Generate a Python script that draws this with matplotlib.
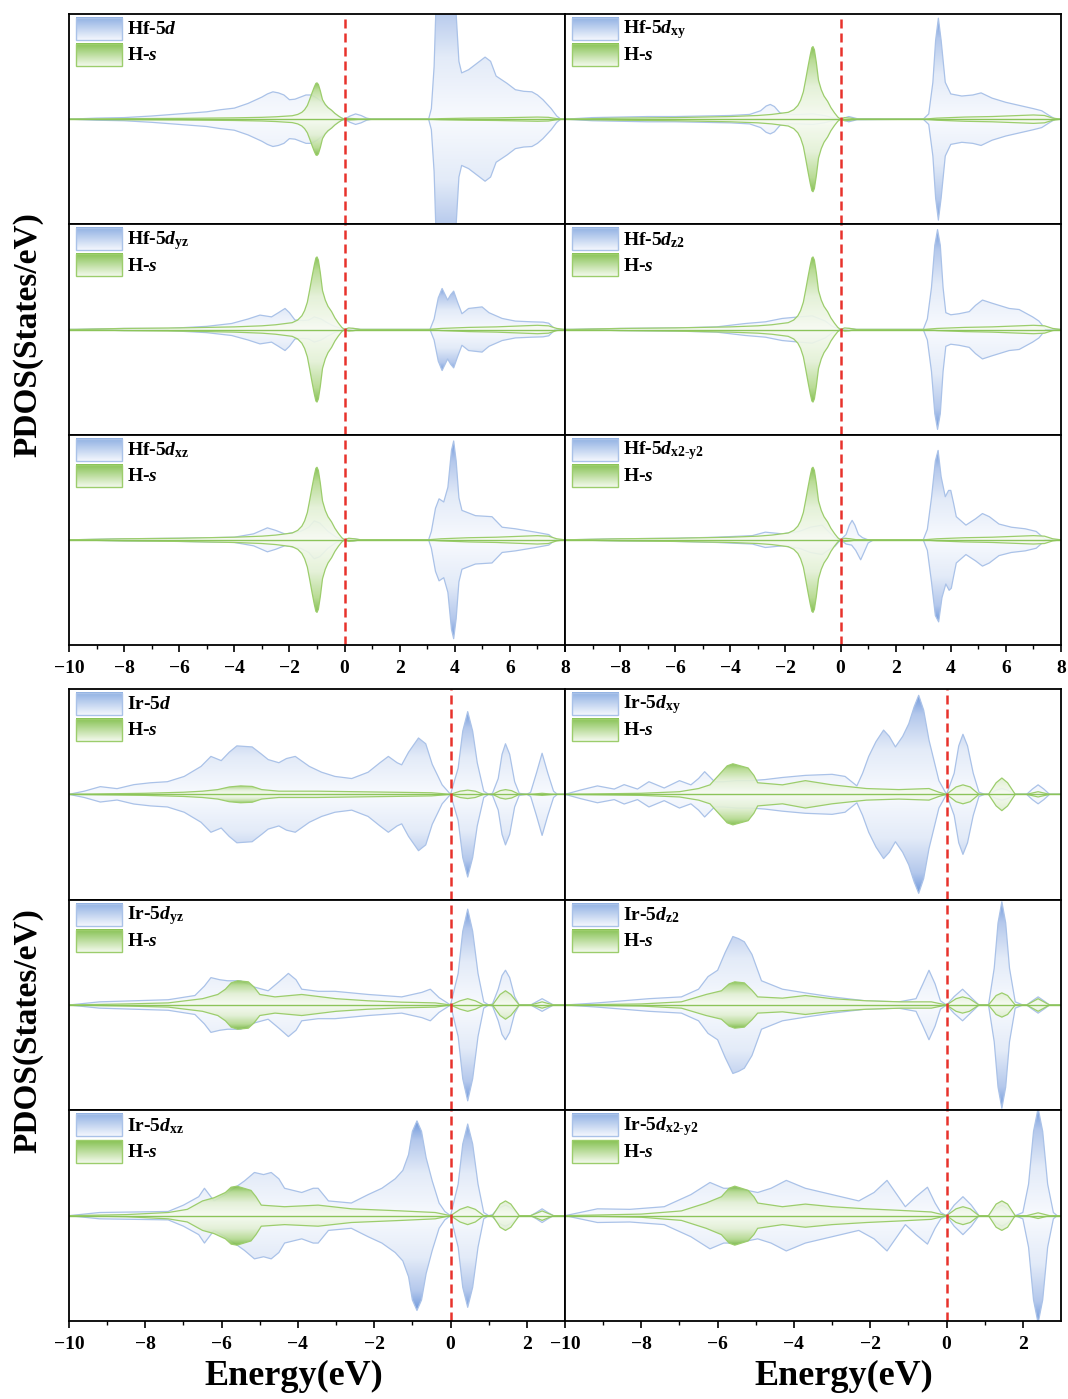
import numpy as np
import matplotlib
matplotlib.use('Agg')
import matplotlib.pyplot as plt
from matplotlib.colors import LinearSegmentedColormap
from matplotlib.patches import Polygon, Rectangle

plt.rcParams['font.family'] = 'Liberation Serif'
plt.rcParams['font.weight'] = 'bold'
plt.rcParams['mathtext.fontset'] = 'custom'
plt.rcParams['mathtext.rm'] = 'Liberation Serif:bold'
plt.rcParams['mathtext.it'] = 'Liberation Serif:italic:bold'
plt.rcParams['mathtext.bf'] = 'Liberation Serif:bold'

# ---- PDOS data, (energy eV, states/eV) pairs, spin up; spin down mirrored ----
# Hf block (energy -10..8)
hf_d = [(-10, 0), (-9, 0.2), (-8, 0.3), (-7, 0.6), (-6, 1.0), (-5, 1.4), (-4.5, 1.8), (-4, 2.1),
        (-3.5, 3.0), (-3, 4.2), (-2.8, 4.8), (-2.6, 5.2), (-2.4, 5.0), (-2.2, 4.6), (-2.0, 3.7),
        (-1.8, 3.8), (-1.6, 4.2), (-1.4, 4.6), (-1.2, 4.6), (-1.0, 4.0), (-0.8, 3.2), (-0.6, 2.2),
        (-0.4, 1.2), (-0.2, 0.4), (0, 0), (0.2, 0.6), (0.4, 1.0), (0.6, 0.7), (0.8, 0.2), (1.0, 0),
        (3.05, 0), (3.15, 2.0), (3.25, 10), (3.32, 22), (3.4, 26), (3.95, 26), (4.05, 20),
        (4.15, 11), (4.25, 8.8), (4.5, 9.4), (4.8, 10.6), (5.1, 11.8), (5.3, 11.0), (5.5, 8.2),
        (5.9, 6.8), (6.2, 5.6), (6.5, 5.3), (6.8, 5.2), (7.0, 4.6), (7.2, 3.7), (7.5, 2.0),
        (7.7, 0.6), (7.85, 0), (8, 0)]
hf_dxy = [(-10, 0), (-9, 0.15), (-8, 0.2), (-7, 0.25), (-6, 0.25), (-5, 0.3), (-4, 0.35),
          (-3.3, 0.45), (-2.9, 0.8), (-2.7, 1.25), (-2.55, 1.4), (-2.4, 1.2), (-2.2, 0.6),
          (-2.0, 0.45), (-1.5, 0.45), (-1.0, 0.5), (-0.6, 0.35), (-0.3, 0.15), (0, 0), (0.3, 0.25),
          (0.6, 0.05), (3.0, 0), (3.2, 0.5), (3.35, 3.5), (3.45, 7.5), (3.55, 9.6), (3.65, 7.5),
          (3.8, 3.5), (4.0, 2.4), (4.4, 2.2), (4.8, 2.3), (5.1, 2.5), (5.5, 2.0), (6.0, 1.6),
          (6.5, 1.3), (7.0, 1.0), (7.3, 0.8), (7.6, 0.3), (7.8, 0), (8, 0)]
hf_dyz = [(-10, 0), (-8, 0.1), (-6.4, 0.1), (-5, 0.3), (-4.1, 0.57), (-3.5, 1.0), (-3.07, 1.37),
          (-2.65, 1.2), (-2.4, 1.6), (-2.16, 2.0), (-2.0, 1.6), (-1.8, 0.9), (-1.5, 0.85),
          (-1.3, 0.9), (-1.1, 1.2), (-0.85, 1.0), (-0.6, 0.6), (-0.36, 0.3), (0, 0), (0.3, 0.1),
          (0.6, 0), (3.1, 0), (3.25, 1.0), (3.4, 3.0), (3.54, 3.9), (3.65, 3.3), (3.74, 2.8),
          (3.85, 3.3), (3.96, 3.65), (4.1, 2.6), (4.26, 1.5), (4.5, 2.0), (4.99, 2.15),
          (5.24, 1.6), (5.72, 1.05), (6.2, 0.8), (6.8, 0.73), (7.2, 0.7), (7.41, 0.6),
          (7.65, 0), (8, 0)]
hf_dxz = [(-10, 0), (-8, 0.1), (-6, 0.15), (-5, 0.2), (-4, 0.25), (-3.3, 0.57), (-2.8, 1.14),
          (-2.5, 0.9), (-2.16, 0.55), (-1.6, 0.8), (-1.3, 1.2), (-1.1, 1.8), (-0.9, 1.6),
          (-0.6, 0.8), (-0.3, 0.25), (0, 0), (0.3, 0.1), (0.6, 0), (3.05, 0), (3.15, 0.8),
          (3.3, 3.0), (3.43, 3.9), (3.6, 3.6), (3.75, 5.0), (3.88, 8.5), (3.96, 9.4), (4.05, 7.5),
          (4.15, 4.0), (4.26, 2.8), (4.75, 2.3), (5.35, 2.2), (5.72, 1.2), (6.2, 1.05),
          (6.93, 0.73), (7.41, 0.5), (7.65, 0), (8, 0)]
hf_dz2 = [(-10, 0), (-8, 0.1), (-6, 0.15), (-4.5, 0.25), (-3.45, 0.57), (-2.73, 0.73),
          (-2.12, 1.05), (-1.5, 1.2), (-1.03, 1.3), (-0.55, 0.8), (-0.3, 0.3), (0, 0), (0.3, 0.1),
          (0.6, 0), (3.0, 0), (3.15, 1.0), (3.3, 4.0), (3.42, 8.0), (3.52, 9.5), (3.62, 8.0),
          (3.72, 4.0), (3.82, 1.6), (4.0, 1.4), (4.3, 1.5), (4.67, 1.7), (4.9, 2.3), (5.15, 2.8),
          (5.5, 2.5), (6.12, 2.0), (6.48, 1.9), (6.97, 1.2), (7.2, 0.8), (7.45, 0), (8, 0)]
hf_dx2y2 = [(-10, 0), (-8, 0.1), (-6, 0.15), (-4.5, 0.25), (-3.2, 0.4), (-2.73, 0.73),
            (-2.12, 0.57), (-1.5, 0.8), (-1.1, 1.2), (-0.67, 1.4), (-0.4, 0.7), (-0.2, 0.2),
            (0, 0), (0.2, 0.5), (0.32, 1.4), (0.42, 1.85), (0.52, 1.4), (0.65, 0.5), (0.8, 0.2),
            (1.0, 0), (3.0, 0), (3.15, 1.0), (3.3, 4.0), (3.44, 7.5), (3.54, 8.5), (3.65, 6.0),
            (3.8, 4.1), (3.92, 4.7), (4.0, 4.7), (4.1, 3.5), (4.2, 2.2), (4.55, 1.4), (4.9, 2.0),
            (5.15, 2.5), (5.4, 2.2), (5.75, 1.5), (6.2, 1.2), (6.7, 1.05), (7.1, 0.8),
            (7.45, 0), (8, 0)]
hf_dx2y2_dn = [(-10, 0), (-8, 0.1), (-6, 0.15), (-4.5, 0.25), (-3.2, 0.4), (-2.73, 0.73),
               (-2.12, 0.57), (-1.5, 0.8), (-1.1, 1.2), (-0.67, 1.4), (-0.4, 0.9), (-0.2, 0.6),
               (0, 0), (0.2, 0.4), (0.4, 0.5), (0.55, 1.0), (0.73, 1.9), (0.85, 1.2), (1.0, 0.3),
               (1.2, 0), (3.0, 0), (3.15, 1.0), (3.3, 4.0), (3.44, 7.2), (3.56, 7.8), (3.68, 5.5),
               (3.82, 4.2), (3.94, 4.8), (4.02, 4.6), (4.1, 3.5), (4.2, 2.2), (4.55, 1.4),
               (4.9, 2.0), (5.15, 2.5), (5.4, 2.2), (5.75, 1.5), (6.2, 1.2), (6.7, 1.05),
               (7.1, 0.8), (7.45, 0), (8, 0)]
hf_hs = [(-10, 0), (-8, 0.1), (-6, 0.15), (-5, 0.2), (-4, 0.25), (-3.5, 0.3), (-3, 0.35),
         (-2.5, 0.45), (-2.2, 0.55), (-1.9, 0.65), (-1.7, 0.9), (-1.55, 1.3), (-1.45, 1.8),
         (-1.35, 2.6), (-1.27, 3.7), (-1.18, 5.0), (-1.1, 6.1), (-1.04, 6.8), (-1.0, 6.9),
         (-0.95, 6.6), (-0.88, 5.4), (-0.8, 3.7), (-0.7, 2.8), (-0.6, 2.2), (-0.47, 1.7),
         (-0.35, 1.1), (-0.22, 0.6), (-0.1, 0.2), (0, 0), (0.15, 0.15), (0.35, 0.1), (0.6, 0),
         (3.0, 0), (3.5, 0.1), (4.5, 0.2), (5.5, 0.25), (6.0, 0.3), (6.5, 0.35), (7.0, 0.4),
         (7.4, 0.35), (7.7, 0.1), (8, 0)]

# Ir block (energy -10..3)
ir_d = [(-10, 0), (-9.6, 0.3), (-9.18, 0.73), (-8.74, 0.54), (-8.3, 0.92), (-7.86, 1.1),
        (-7.42, 1.2), (-6.98, 1.7), (-6.54, 2.65), (-6.28, 3.6), (-6.01, 3.2), (-5.8, 4.0),
        (-5.6, 4.6), (-5.2, 4.5), (-4.95, 3.8), (-4.78, 3.3), (-4.5, 3.0), (-4.3, 3.4),
        (-4.07, 3.6), (-3.7, 2.65), (-3.38, 2.1), (-3.03, 1.7), (-2.59, 1.5), (-2.16, 2.1),
        (-1.85, 3.0), (-1.63, 3.6), (-1.4, 3.0), (-1.28, 2.8), (-1.1, 4.0), (-0.84, 5.35),
        (-0.65, 4.8), (-0.48, 2.85), (-0.22, 0.9), (0, 0), (0.2, 2.5), (0.32, 6.0), (0.45, 7.85),
        (0.58, 6.0), (0.7, 3.0), (0.87, 0.3), (1.0, 0), (1.1, 0.1), (1.25, 1.5), (1.35, 3.8),
        (1.44, 4.8), (1.55, 3.8), (1.68, 1.2), (1.8, 0.1), (2.0, 0), (2.1, 0.2), (2.25, 2.0),
        (2.4, 3.9), (2.55, 2.0), (2.7, 0.3), (2.8, 0), (3, 0)]
ir_d_hs = [(-10, 0), (-8, 0.1), (-7, 0.2), (-6.5, 0.3), (-6.1, 0.45), (-5.8, 0.7), (-5.5, 0.8),
           (-5.2, 0.75), (-4.95, 0.45), (-4.5, 0.3), (-3.5, 0.3), (-2.5, 0.25), (-1.5, 0.2),
           (-0.5, 0.15), (0, 0), (0.25, 0.3), (0.45, 0.4), (0.65, 0.3), (0.87, 0), (1.1, 0),
           (1.3, 0.35), (1.44, 0.45), (1.6, 0.35), (1.8, 0), (2.1, 0), (2.4, 0.1), (2.7, 0), (3, 0)]
ir_dyz = [(-10, 0), (-9.2, 0.3), (-8.3, 0.4), (-7.4, 0.5), (-6.7, 0.9), (-6.45, 1.8),
          (-6.28, 2.6), (-6.05, 2.4), (-5.84, 2.3), (-5.5, 2.3), (-5.14, 1.7), (-4.78, 1.35),
          (-4.5, 2.2), (-4.25, 3.0), (-4.05, 2.4), (-3.9, 1.5), (-3.47, 1.3), (-3.03, 1.3),
          (-2.16, 1.0), (-1.28, 0.77), (-0.75, 1.2), (-0.53, 1.5), (-0.3, 0.7), (0, 0), (0.2, 3.0),
          (0.32, 7.0), (0.45, 9.1), (0.58, 7.0), (0.72, 3.0), (0.87, 0.3), (1.0, 0), (1.1, 0.1),
          (1.25, 1.5), (1.35, 2.8), (1.44, 3.3), (1.55, 2.6), (1.68, 0.8), (1.8, 0), (2.1, 0),
          (2.25, 0.3), (2.4, 0.6), (2.55, 0.3), (2.7, 0), (3, 0)]
ir_dyz_hs = [(-10, 0), (-8.5, 0.1), (-7.4, 0.2), (-6.5, 0.6), (-6.1, 1.0), (-5.9, 1.5),
             (-5.75, 2.1), (-5.58, 2.3), (-5.3, 2.2), (-5.15, 1.7), (-5.0, 1.0), (-4.6, 0.77),
             (-3.9, 1.0), (-3.0, 0.6), (-2.16, 0.4), (-1.28, 0.27), (-0.4, 0.2), (0, 0),
             (0.25, 0.4), (0.45, 0.6), (0.65, 0.4), (0.87, 0), (1.1, 0), (1.3, 1.0), (1.44, 1.35),
             (1.58, 1.0), (1.8, 0), (2.1, 0), (2.4, 0.3), (2.7, 0), (3, 0)]
ir_dxz = [(-10, 0), (-9.2, 0.3), (-7.4, 0.4), (-7.0, 1.0), (-6.6, 1.8), (-6.45, 2.6),
          (-6.2, 1.4), (-5.9, 2.0), (-5.67, 2.6), (-5.4, 3.3), (-5.14, 4.1), (-4.9, 3.9),
          (-4.7, 4.1), (-4.5, 3.5), (-4.35, 2.6), (-3.9, 2.2), (-3.6, 2.6), (-3.47, 2.6),
          (-3.2, 1.4), (-2.6, 1.2), (-2.16, 2.0), (-1.8, 2.6), (-1.45, 3.5), (-1.25, 4.3),
          (-1.1, 5.8), (-1.0, 8.0), (-0.88, 9.0), (-0.76, 8.0), (-0.64, 5.5), (-0.48, 3.3),
          (-0.3, 1.2), (-0.15, 0.4), (0, 0), (0.2, 3.0), (0.32, 6.8), (0.45, 8.7), (0.58, 6.8),
          (0.72, 3.0), (0.87, 0.3), (1.0, 0), (1.1, 0.1), (1.25, 0.7), (1.44, 1.0), (1.6, 0.7),
          (1.8, 0), (2.1, 0), (2.25, 0.3), (2.4, 0.65), (2.55, 0.3), (2.7, 0), (3, 0)]
ir_dxz_hs = [(-10, 0), (-8.5, 0.1), (-7.4, 0.3), (-6.9, 0.6), (-6.5, 1.4), (-6.2, 1.7),
             (-5.9, 2.2), (-5.75, 2.7), (-5.6, 2.8), (-5.23, 2.4), (-5.1, 1.8), (-4.96, 1.0),
             (-4.35, 0.85), (-3.47, 1.0), (-2.6, 0.65), (-1.28, 0.45), (-0.4, 0.3), (0, 0),
             (0.25, 0.6), (0.45, 0.85), (0.65, 0.6), (0.87, 0), (1.1, 0), (1.3, 1.1), (1.44, 1.4),
             (1.58, 1.1), (1.8, 0), (2.1, 0), (2.4, 0.45), (2.7, 0), (3, 0)]
ir_dxy = [(-10, 0), (-9.6, 0.4), (-9.15, 0.8), (-8.71, 0.5), (-8.45, 0.92), (-8.1, 0.5),
          (-7.8, 1.2), (-7.4, 0.6), (-7.0, 1.3), (-6.7, 0.9), (-6.5, 1.5), (-6.34, 2.15),
          (-6.08, 1.2), (-5.84, 1.2), (-5.5, 1.3), (-5.14, 1.3), (-4.76, 1.4), (-4.3, 1.6),
          (-3.7, 1.8), (-3.0, 1.9), (-2.66, 1.7), (-2.35, 0.8), (-2.2, 2.0), (-2.04, 3.6),
          (-1.85, 5.0), (-1.65, 6.1), (-1.5, 5.5), (-1.34, 4.5), (-1.15, 5.5), (-0.99, 6.7),
          (-0.85, 8.3), (-0.73, 9.4), (-0.6, 8.0), (-0.46, 5.15), (-0.2, 1.3), (0, 0), (0.2, 2.0),
          (0.32, 4.6), (0.43, 5.7), (0.55, 4.6), (0.7, 2.0), (0.85, 0.2), (1.0, 0), (1.1, 0),
          (1.3, 0.4), (1.45, 0.55), (1.6, 0.4), (1.8, 0), (2.1, 0), (2.25, 0.5), (2.4, 0.9),
          (2.55, 0.5), (2.7, 0), (3, 0)]
ir_dxy_hs = [(-10, 0), (-8, 0.1), (-7, 0.25), (-6.5, 0.55), (-6.2, 0.9), (-5.9, 2.1),
             (-5.75, 2.7), (-5.6, 2.9), (-5.2, 2.5), (-5.05, 1.8), (-4.95, 1.1), (-4.3, 0.9),
             (-3.7, 1.3), (-3.0, 0.9), (-2.1, 0.55), (-1.25, 0.45), (-0.46, 0.55), (-0.2, 0.2),
             (0, 0), (0.25, 0.7), (0.43, 0.9), (0.62, 0.7), (0.85, 0), (1.1, 0), (1.3, 1.1),
             (1.45, 1.55), (1.6, 1.1), (1.8, 0), (2.1, 0), (2.4, 0.25), (2.7, 0), (3, 0)]
ir_dz2 = [(-10, 0), (-9.15, 0.2), (-7.8, 0.6), (-6.95, 0.77), (-6.5, 1.5), (-6.25, 2.7),
          (-6.0, 3.3), (-5.8, 5.0), (-5.6, 6.5), (-5.45, 6.3), (-5.3, 6.0), (-5.1, 4.8),
          (-4.85, 2.3), (-4.3, 1.5), (-3.7, 1.15), (-3.0, 0.77), (-2.13, 0.4), (-1.25, 0.3),
          (-0.8, 0.6), (-0.62, 2.0), (-0.46, 3.3), (-0.3, 2.0), (-0.16, 0.4), (0, 0), (0.2, 0.8),
          (0.42, 1.5), (0.62, 0.8), (0.85, 0), (1.1, 0), (1.25, 3.5), (1.35, 7.8), (1.45, 9.8),
          (1.55, 7.8), (1.65, 3.5), (1.8, 0.3), (2.0, 0), (2.1, 0), (2.25, 0.4), (2.4, 0.77),
          (2.55, 0.4), (2.7, 0), (3, 0)]
ir_dz2_hs = [(-10, 0), (-8, 0.1), (-6.95, 0.3), (-6.3, 1.0), (-5.9, 1.35), (-5.7, 2.0),
             (-5.55, 2.2), (-5.3, 2.1), (-5.1, 1.4), (-4.95, 0.77), (-4.3, 0.65), (-3.7, 0.9),
             (-3.0, 0.6), (-2.1, 0.4), (-1.2, 0.3), (-0.4, 0.3), (0, 0), (0.25, 0.6), (0.42, 0.77),
             (0.6, 0.6), (0.85, 0), (1.1, 0), (1.3, 0.9), (1.45, 1.15), (1.6, 0.9), (1.8, 0),
             (2.1, 0), (2.4, 0.6), (2.7, 0), (3, 0)]
ir_dx2y2 = [(-10, 0), (-9.15, 0.65), (-8.3, 0.6), (-7.4, 0.85), (-6.7, 2.0), (-6.2, 3.15),
            (-5.84, 2.6), (-5.5, 2.6), (-4.95, 2.2), (-4.6, 2.6), (-4.2, 3.35), (-3.7, 2.6),
            (-3.0, 2.0), (-2.3, 1.4), (-1.9, 2.2), (-1.56, 3.35), (-1.3, 2.0), (-1.08, 0.85),
            (-0.8, 1.8), (-0.5, 2.7), (-0.3, 1.2), (-0.15, 0.3), (0, 0), (0.2, 1.0), (0.43, 1.8),
            (0.65, 1.0), (0.85, 0), (1.1, 0), (1.3, 0.7), (1.45, 1.0), (1.6, 0.7), (1.8, 0),
            (2.0, 0.3), (2.15, 3.0), (2.28, 8.0), (2.4, 10.2), (2.52, 8.0), (2.65, 3.0),
            (2.8, 0.3), (2.9, 0), (3, 0)]
ir_dx2y2_hs = [(-10, 0), (-8, 0.15), (-6.95, 0.45), (-6.3, 1.2), (-5.9, 1.8), (-5.7, 2.6),
               (-5.55, 2.8), (-5.2, 2.4), (-5.05, 1.8), (-4.95, 1.2), (-4.3, 0.85), (-3.7, 1.1),
               (-3.0, 0.85), (-2.1, 0.65), (-1.2, 0.5), (-0.4, 0.35), (0, 0), (0.25, 0.65),
               (0.43, 0.85), (0.62, 0.65), (0.85, 0), (1.1, 0), (1.3, 1.1), (1.45, 1.4),
               (1.6, 1.1), (1.8, 0), (2.1, 0), (2.4, 0.27), (2.7, 0), (3, 0)]

# panels: (blue up, blue down, green, label, y half-range)
hf_left = [(hf_d, hf_d, hf_hs, r'Hf-5$d$', 20),
           (hf_dyz, hf_dyz, hf_hs, r'Hf-5$d_{\rm yz}$', 10),
           (hf_dxz, hf_dxz, hf_hs, r'Hf-5$d_{\rm xz}$', 10)]
hf_right = [(hf_dxy, hf_dxy, hf_hs, r'Hf-5$d_{\rm xy}$', 10),
            (hf_dz2, hf_dz2, hf_hs, r'Hf-5$d_{\rm z2}$', 10),
            (hf_dx2y2, hf_dx2y2_dn, hf_hs, r'Hf-5$d_{\rm x2\text{-}y2}$', 10)]
ir_left = [(ir_d, ir_d, ir_d_hs, r'Ir-5$d$', 10),
           (ir_dyz, ir_dyz, ir_dyz_hs, r'Ir-5$d_{\rm yz}$', 10),
           (ir_dxz, ir_dxz, ir_dxz_hs, r'Ir-5$d_{\rm xz}$', 10)]
ir_right = [(ir_dxy, ir_dxy, ir_dxy_hs, r'Ir-5$d_{\rm xy}$', 10),
            (ir_dz2, ir_dz2, ir_dz2_hs, r'Ir-5$d_{\rm z2}$', 10),
            (ir_dx2y2, ir_dx2y2, ir_dx2y2_hs, r'Ir-5$d_{\rm x2\text{-}y2}$', 10)]

BLUE = LinearSegmentedColormap.from_list(
    'b', [(0, '#f8fafe'), (0.45, '#e3ebf8'), (0.8, '#b4c8ec'), (1, '#6f98db')])
GREEN = LinearSegmentedColormap.from_list(
    'g', [(0, '#f7fbf2'), (0.45, '#e2f0d4'), (0.8, '#b3d98c'), (1, '#78b941')])
BLUE_LEG = LinearSegmentedColormap.from_list('bl', ['#f4f7fd', '#8fb0e3'])
GREEN_LEG = LinearSegmentedColormap.from_list('gl', ['#f3f9ec', '#86c252'])
BLUE_EDGE = '#aac2e8'
GREEN_EDGE = '#9ccd6c'
RED = '#e8322c'

W, H = 1068, 1399
fig = plt.figure(figsize=(W / 100, H / 100), dpi=100)


def grad_fill(ax, pts, cmap, sign, edge, alpha=1.0, z=1):
    e = np.array([p[0] for p in pts], dtype=float)
    v = np.array([p[1] for p in pts], dtype=float) * sign
    vmax = np.abs(v).max()
    verts = np.column_stack([np.r_[e, e[::-1]], np.r_[v, np.zeros_like(v)]])
    poly = Polygon(verts, closed=True, facecolor='none', edgecolor='none', zorder=z)
    ax.add_patch(poly)
    g = np.linspace(0, 1, 256).reshape(-1, 1)
    if sign > 0:
        ext = [e[0], e[-1], 0, vmax]
    else:
        ext = [e[0], e[-1], -vmax, 0]
        g = g[::-1]
    im = ax.imshow(g, extent=ext, origin='lower', aspect='auto', cmap=cmap,
                   vmin=0, vmax=1, alpha=alpha, zorder=z, interpolation='bilinear')
    im.set_clip_path(poly)
    ax.plot(e, v, color=edge, lw=0.9, zorder=z + 0.1)


def legend_box(ax, y0, cmap, edge):
    x0, w, h = 0.014, 0.093, 0.105
    g = np.linspace(0, 1, 64).reshape(-1, 1)
    ax.imshow(g, extent=[x0, x0 + w, y0, y0 + h], origin='lower', aspect='auto',
              cmap=cmap, transform=ax.transAxes, zorder=6, interpolation='bilinear')
    ax.add_patch(Rectangle((x0, y0), w, h, transform=ax.transAxes, facecolor='none',
                           edgecolor=edge, lw=1.0, zorder=7))


def panel(ax, spec, xlim):
    up, dn, hs, label, ylim = spec
    ax.set_xlim(*xlim)
    ax.set_ylim(-ylim, ylim)
    ax.set_autoscale_on(False)
    grad_fill(ax, up, BLUE, 1, BLUE_EDGE, z=1)
    grad_fill(ax, dn, BLUE, -1, BLUE_EDGE, z=1)
    grad_fill(ax, hs, GREEN, 1, GREEN_EDGE, alpha=0.9, z=2)
    grad_fill(ax, hs, GREEN, -1, GREEN_EDGE, alpha=0.9, z=2)
    ax.axhline(0, color='#8cc45a', lw=1.0, zorder=3)
    ax.axvline(0, color=RED, lw=1.8, dashes=(3.6, 2.0), zorder=4)
    legend_box(ax, 0.876, BLUE_LEG, BLUE_EDGE)
    legend_box(ax, 0.752, GREEN_LEG, GREEN_EDGE)
    ax.text(0.117, 0.925, label, transform=ax.transAxes, fontsize=14, va='center',
            ha='left', zorder=8)
    ax.text(0.117, 0.801, r'H-$s$', transform=ax.transAxes, fontsize=14, va='center',
            ha='left', zorder=8)
    ax.set_yticks([])
    for s in ax.spines.values():
        s.set_linewidth(1.3)
        s.set_zorder(9)


def block(top_px, bottom_px, left_specs, right_specs, xlim, majors, minors, hide_first_right):
    rh = (bottom_px - top_px) / 3
    for col, specs in enumerate([left_specs, right_specs]):
        x0 = 69 + col * 496
        for row, spec in enumerate(specs):
            yb = top_px + rh * (row + 1)
            ax = fig.add_axes([x0 / W, 1 - yb / H, 496 / W, rh / H])
            panel(ax, spec, xlim)
            if row < 2:
                ax.tick_params(bottom=False, labelbottom=False)
                ax.set_xticks([])
            else:
                ax.set_xticks(majors)
                ax.set_xticks(minors, minor=True)
                labels = [str(t).replace('-', '\u2212') for t in majors]
                if col == 1 and hide_first_right:
                    labels[0] = ''
                ax.set_xticklabels(labels)
                ax.tick_params(axis='x', which='major', direction='out', length=5, width=1.2,
                               labelsize=14, pad=6)
                ax.tick_params(axis='x', which='minor', direction='out', length=3, width=1.0)


block(14, 645, hf_left, hf_right, (-10, 8), list(range(-10, 9, 2)), list(range(-9, 8, 2)), True)
block(689, 1321, ir_left, ir_right, (-10, 3), list(range(-10, 3, 2)), list(range(-9, 3, 2)), False)

lab = dict(fontsize=26, fontweight='bold', ha='center', va='center')
fig.text(294 / W, 1 - 1376 / H, 'Energy(eV)', **lab)
fig.text(844 / W, 1 - 1376 / H, 'Energy(eV)', **lab)
fig.text(28 / W, 1 - 335 / H, 'PDOS(States/eV)', rotation=90, fontsize=24,
         fontweight='bold', ha='center', va='center')
fig.text(28 / W, 1 - 1031 / H, 'PDOS(States/eV)', rotation=90, fontsize=24,
         fontweight='bold', ha='center', va='center')

fig.savefig('out.png', dpi=100, facecolor='white')
